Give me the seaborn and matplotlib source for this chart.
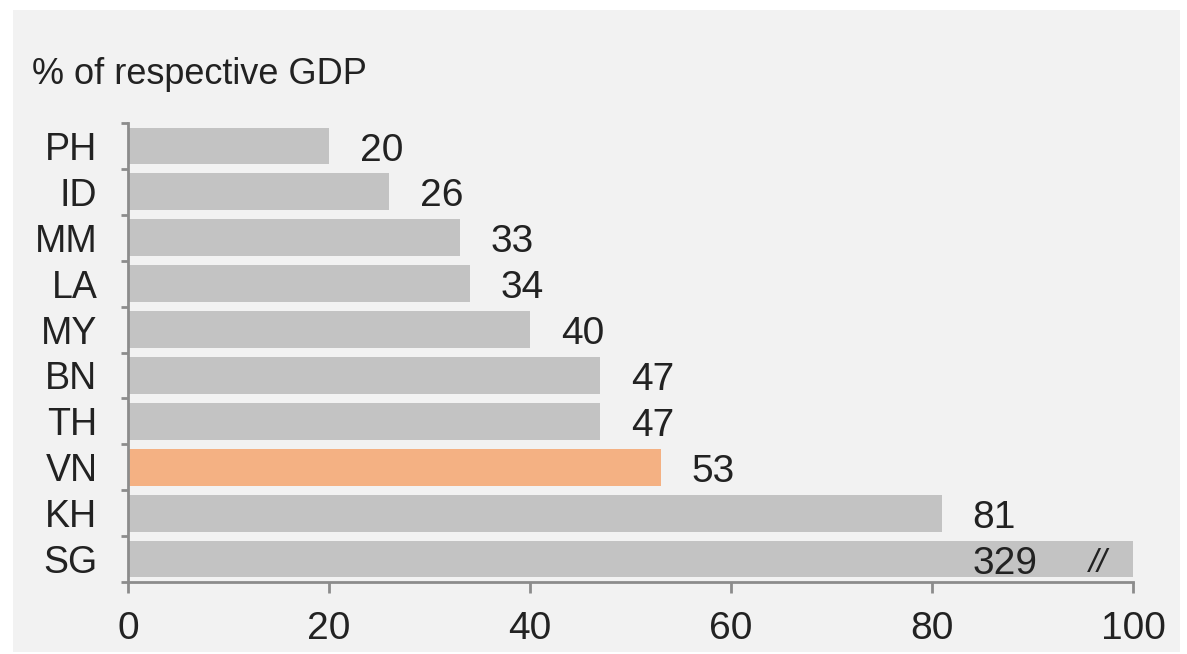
import matplotlib
matplotlib.use("Agg")
import matplotlib.pyplot as plt
import seaborn as sns
import pandas as pd
from matplotlib.patches import Rectangle

countries = ["PH", "ID", "MM", "LA", "MY", "BN", "TH", "VN", "KH", "SG"]
values = [20, 26, 33, 34, 40, 47, 47, 53, 81, 329]
highlight = "VN"
axis_max = 100
x_ticks = [0, 20, 40, 60, 80, 100]
title = "% of respective GDP"

sns.set_theme(style="white")
plt.rcParams["font.family"] = ["Liberation Sans Narrow", "Liberation Sans", "DejaVu Sans"]

GRAY = "#c3c3c3"
ORANGE = "#f4b183"
BG = "#f2f2f2"
SPINE = "#8c8c8c"
TXT = "#222222"

df = pd.DataFrame({"country": countries, "value": values})
df["shown"] = df["value"].clip(upper=axis_max)
palette = {c: (ORANGE if c == highlight else GRAY) for c in countries}

fig = plt.figure(figsize=(11.87, 6.54), dpi=100, facecolor="white")
bg = Rectangle((13 / 1187, 0.003), (1180 - 13) / 1187, 1 - 10 / 654 - 0.003,
               transform=fig.transFigure, facecolor=BG, edgecolor="none", zorder=-10)
fig.patches.append(bg)
ax = fig.add_axes([128 / 1187, 1 - 582 / 654, (1133 - 128) / 1187, (582 - 123) / 654])
ax.set_facecolor("none")
ax.set_zorder(1)

sns.barplot(data=df, y="country", x="shown", hue="country", palette=palette,
            orient="h", width=0.8, dodge=False, legend=False, ax=ax, saturation=1,
            linewidth=0)

ax.set_xlim(0, axis_max)
ax.set_ylim(len(countries) - 0.5, -0.5)
ax.set_xlabel("")
ax.set_ylabel("")
ax.set_xticks(x_ticks)
ax.set_xticklabels([str(t) for t in x_ticks], fontsize=28, color=TXT)
ax.set_yticks(range(len(countries)))
ax.set_yticklabels(countries, fontsize=27, color=TXT)
ax.tick_params(axis="y", which="major", left=True, length=0, pad=22)
ax.set_yticks([i - 0.5 for i in range(len(countries) + 1)], minor=True)
ax.tick_params(axis="y", which="minor", left=True, length=5, width=2, color=SPINE, direction="out")
ax.tick_params(axis="x", which="major", bottom=True, length=8, width=2, color=SPINE,
               direction="out", pad=13)

for s in ["top", "right"]:
    ax.spines[s].set_visible(False)
for s in ["left", "bottom"]:
    ax.spines[s].set_color(SPINE)
    ax.spines[s].set_linewidth(2)

for i, (c, v) in enumerate(zip(countries, values)):
    if v > axis_max:
        ax.text(90.5, i + 0.1, str(v), ha="right", va="center", fontsize=28, color=TXT)
        ax.text(96.5, i + 0.1, "//", ha="center", va="center", fontsize=24, color=TXT,
                style="italic")
    else:
        ax.text(v + 5.2, i + 0.1, str(v), ha="center", va="center", fontsize=28, color=TXT)

fig.text(32 / 1187, 1 - 74 / 654, title, fontsize=26, color=TXT, ha="left", va="center")

fig.savefig("out.png", dpi=100, facecolor=fig.get_facecolor())
